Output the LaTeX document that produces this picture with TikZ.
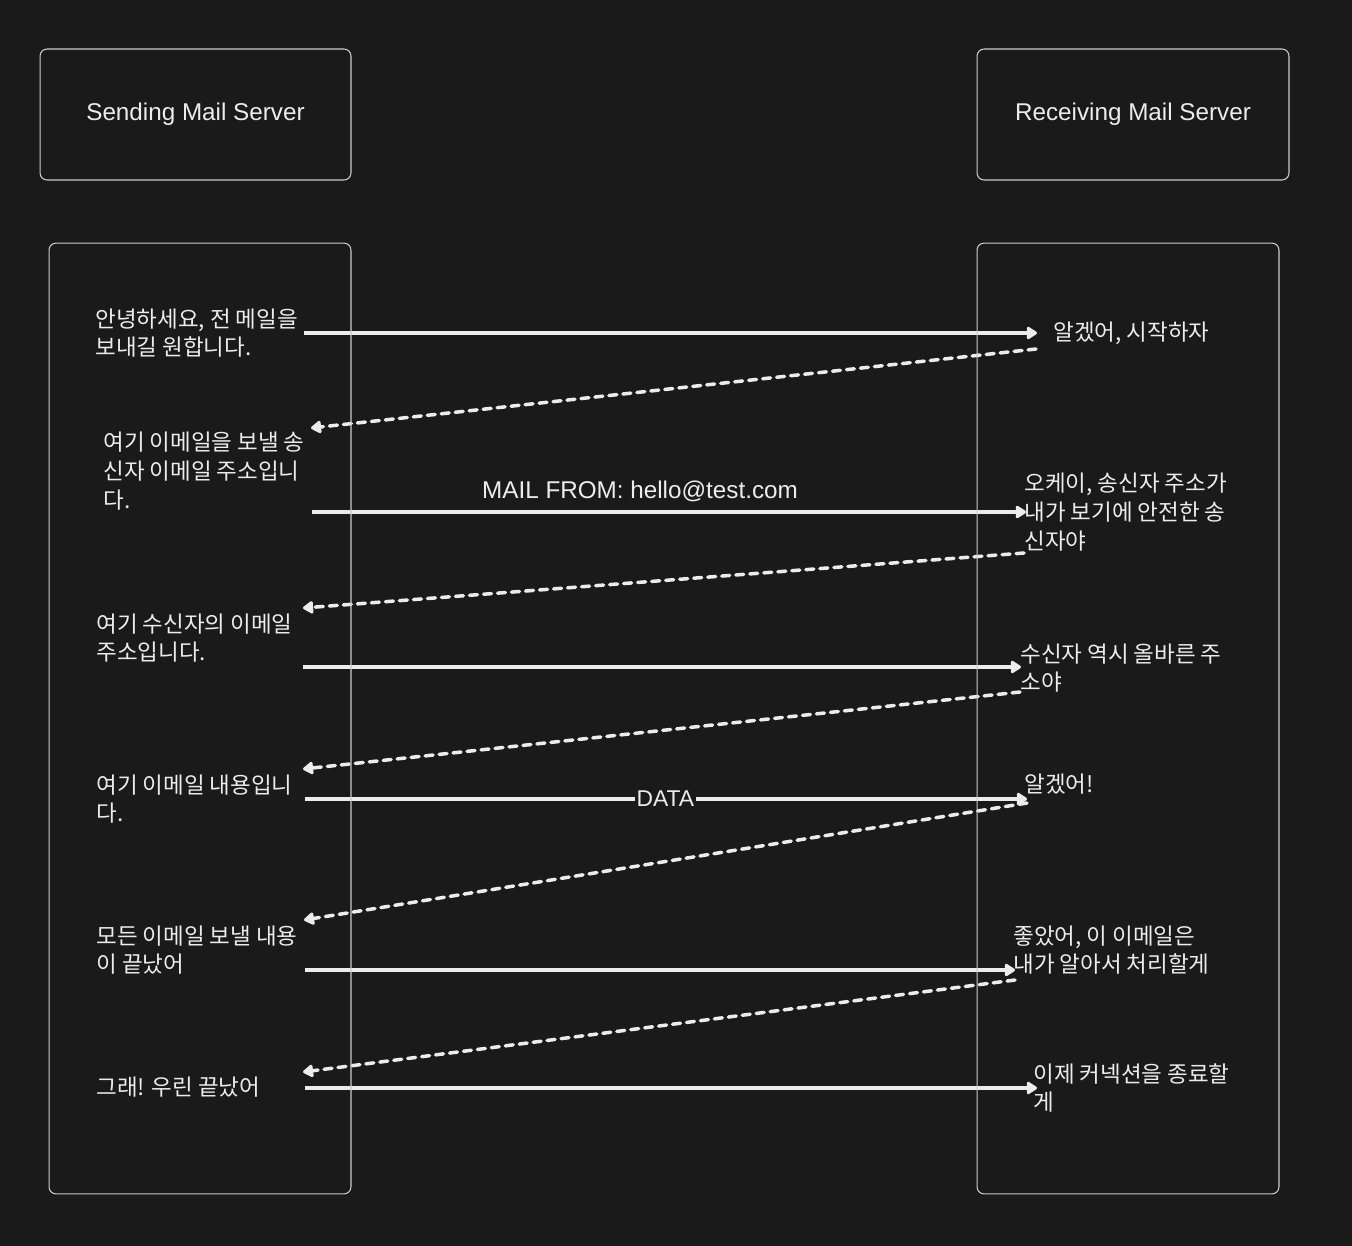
\documentclass[tikz,border=0pt]{standalone}
\usepackage{fontspec}
\setmainfont{Noto Sans CJK KR}
\newfontfamily\latinfont{Liberation Sans}
\usetikzlibrary{arrows.meta}
\definecolor{Ink}{HTML}{1A1A1A}
\definecolor{Chalk}{HTML}{ECECEC}
\definecolor{Frame}{HTML}{CBCBCB}

\begin{document}
\begin{tikzpicture}[x=0.02cm,y=-0.02cm,>={Triangle[round,length=6.5pt,width=8pt]},every node/.style={text=Chalk,font=\fontsize{12.8}{16.4}\selectfont,inner sep=0pt},
 lane/.style={draw=Frame,line width=0.6pt,rounded corners=4pt},
 head/.style={font=\latinfont\fontsize{13.8}{16}\selectfont},
 msg/.style={Chalk,line width=2pt,->},
 reply/.style={msg,dash pattern=on 4.5pt off 3.5pt,line cap=round},
 note/.style={anchor=west,align=left}]
\fill[Ink] (0,0) rectangle (1352,1246);
\node[lane,head,minimum width=6.22cm,minimum height=2.62cm] (sender) at (195.5,114.5){Sending Mail Server};
\node[lane,head,minimum width=6.24cm,minimum height=2.62cm] (receiver) at (1133,114.5){Receiving Mail Server};
% sender side
\node[note] (hello) at (95,333){안녕하세요, 전 메일을\\보내길 원합니다.};
\node[note] (from) at (103,471){여기 이메일을 보낼 송\\신자 이메일 주소입니\\다.};
\node[note] (rcpt) at (96,638){여기 수신자의 이메일\\주소입니다.};
\node[note] (data) at (96,799){여기 이메일 내용입니\\다.};
\node[note] (done) at (96,950){모든 이메일 보낼 내용\\이 끝났어};
\node[note] (quit) at (96,1087){그래! 우린 끝났어};
% receiver side
\node[note] (start) at (1053,333){알겠어, 시작하자};
\node[note] (fromok) at (1024,512){오케이, 송신자 주소가\\내가 보기에 안전한 송\\신자야};
\node[note] (rcptok) at (1020,668){수신자 역시 올바른 주\\소야};
\node[note] (dataok) at (1024,784){알겠어!};
\node[note] (doneok) at (1013,950){좋았어, 이 이메일은\\내가 알아서 처리할게};
\node[note] (bye) at (1033,1088){이제 커넥션을 종료할\\게};
\coordinate (snd1) at (304,333); \coordinate (rcv1) at (1037,333);
\coordinate (snd2) at (312,512); \coordinate (rcv2) at (1026,512);
\coordinate (snd3) at (303,667); \coordinate (rcv3) at (1021,667);
\coordinate (snd4) at (305,799); \coordinate (rcv4) at (1027,799);
\coordinate (snd5) at (305,970); \coordinate (rcv5) at (1015,970);
\coordinate (snd6) at (305,1088); \coordinate (rcv6) at (1037,1088);
\coordinate (ack1) at (1036,349); \coordinate (back1) at (311,428);
\coordinate (ack2) at (1024,553); \coordinate (back2) at (303,608);
\coordinate (ack3) at (1020,692); \coordinate (back3) at (303,769);
\coordinate (ack4) at (1027,803); \coordinate (back4) at (304,920);
\coordinate (ack5) at (1015,980); \coordinate (back5) at (303,1072);
\draw[msg] (snd1)--(rcv1);
\draw[reply] (ack1)--(back1);
\draw[msg] (snd2)--node[head,above=4.5pt,xshift=-16.5pt]{MAIL FROM: hello@test.com}(rcv2);
\draw[reply] (ack2)--(back2);
\draw[msg] (snd3)--(rcv3);
\draw[reply] (ack3)--(back3);
\draw[msg] (snd4)--node[pos=.499,fill=Ink,inner xsep=1pt,inner ysep=2pt,font=\latinfont\fontsize{13}{14}\selectfont]{DATA}(rcv4);
\draw[reply] (ack4)--(back4);
\draw[msg] (snd5)--(rcv5);
\draw[reply] (ack5)--(back5);
\draw[msg] (snd6)--(rcv6);
% lifelines
\node[lane,minimum width=6.04cm,minimum height=19.02cm] (sendlane) at (200,718.5){};
\node[lane,minimum width=6.04cm,minimum height=19.02cm] (recvlane) at (1128,718.5){};
\end{tikzpicture}
\end{document}
